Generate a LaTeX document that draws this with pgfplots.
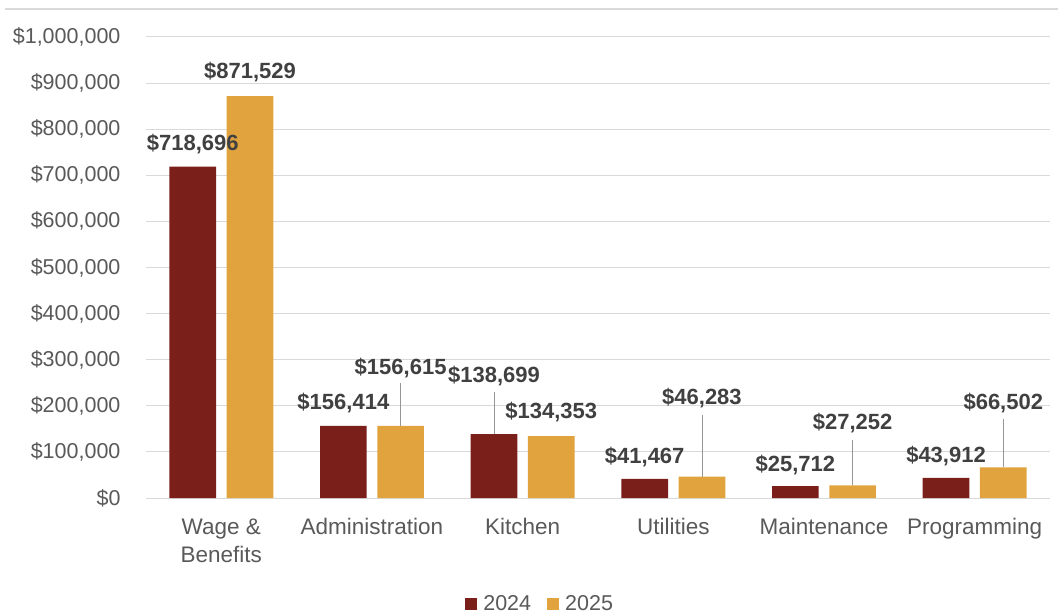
\documentclass[border=0pt]{standalone}
\usepackage{fontspec}
\setmainfont{Liberation Sans}
\usepackage{pgfplots}
\pgfplotsset{compat=1.18}
\usepackage{pgfplotstable}
\definecolor{c24}{RGB}{122,31,26}
\definecolor{c25}{RGB}{224,163,62}
\definecolor{tickc}{RGB}{89,89,89}
\definecolor{labc}{RGB}{64,64,64}
\definecolor{gridc}{RGB}{217,217,217}
\definecolor{leadc}{RGB}{150,150,150}

\pgfplotstableread{
x y lab off
0 718696 718,696 23
1 156414 156,414 23
2 138699 138,699 58
3 41467 41,467 22
4 25712 25,712 21
5 43912 43,912 22
}\dataA
\pgfplotstableread{
x y lab off
0 871529 871,529 24
1 156615 156,615 58
2 134353 134,353 24
3 46283 46,283 79
4 27252 27,252 62
5 66502 66,502 64
}\dataB

\begin{document}
\begin{tikzpicture}
\begin{axis}[
  name=ax,
  scale only axis,
  width=904pt, height=461pt,
  xmin=-0.5, xmax=5.5,
  ymin=0, ymax=1000000,
  ybar,
  bar width=0.31,
  axis line style={draw=none},
  major tick length=0pt,
  ymajorgrids,
  grid style={gridc, line width=1pt},
  ytick={0,100000,...,1000000},
  yticklabels={{\$0},{\$100,000},{\$200,000},{\$300,000},{\$400,000},{\$500,000},{\$600,000},{\$700,000},{\$800,000},{\$900,000},{\$1,000,000}},
  scaled y ticks=false,
  xtick={0,1,2,3,4,5},
  xticklabels={{Wage \&\\Benefits},Administration,Kitchen,Utilities,Maintenance,Programming},
  yticklabel style={font=\fontsize{21.5}{24}\selectfont, text=tickc, xshift=-22pt},
  xticklabel style={font=\fontsize{22.5}{28}\selectfont, text=tickc, align=center, yshift=-17pt},
  point meta=explicit symbolic,
  nodes near coords={\$\pgfplotspointmeta},
  visualization depends on={\thisrow{off} \as \myoff},
  every node near coord/.append style={anchor=center, yshift=\myoff pt, font=\fontsize{22}{24}\bfseries\selectfont, text=labc},
  legend style={at={(0.436,0)}, anchor=center, yshift=-106pt, draw=none, fill=none,
    legend columns=2, font=\fontsize{21.5}{24}\selectfont, text=tickc,
    /tikz/every odd column/.append style={column sep=4pt},
    /tikz/every even column/.append style={column sep=14pt}},
  legend image code/.code={\fill[#1,draw=none] (0pt,-6pt) rectangle (12pt,6pt);},
]
\addplot[fill=c24, draw=none, bar shift=-0.19] table[x=x, y=y, meta=lab] {\dataA};
\addlegendentry{2024}
\addplot[fill=c25, draw=none, bar shift=0.19] table[x=x, y=y, meta=lab] {\dataB};
\addlegendentry{2025}
\draw[leadc, line width=0.8pt] (axis cs:1.19,156615) -- ++(0pt,43pt);
\draw[leadc, line width=0.8pt] (axis cs:1.81,138699) -- ++(0pt,42pt);
\draw[leadc, line width=0.8pt] (axis cs:3.19,46283) -- ++(0pt,62pt);
\draw[leadc, line width=0.8pt] (axis cs:4.19,27252) -- ++(0pt,45pt);
\draw[leadc, line width=0.8pt] (axis cs:5.19,66502) -- ++(0pt,48pt);
\end{axis}
\draw[gridc, line width=2pt] ([xshift=-141pt,yshift=28pt]ax.north west) -- ([xshift=8pt,yshift=28pt]ax.north east);
\pgfresetboundingbox
\path[use as bounding box] ([xshift=-146pt,yshift=-117pt]ax.south west) rectangle ([xshift=8pt,yshift=37pt]ax.north east);
\end{tikzpicture}
\end{document}
